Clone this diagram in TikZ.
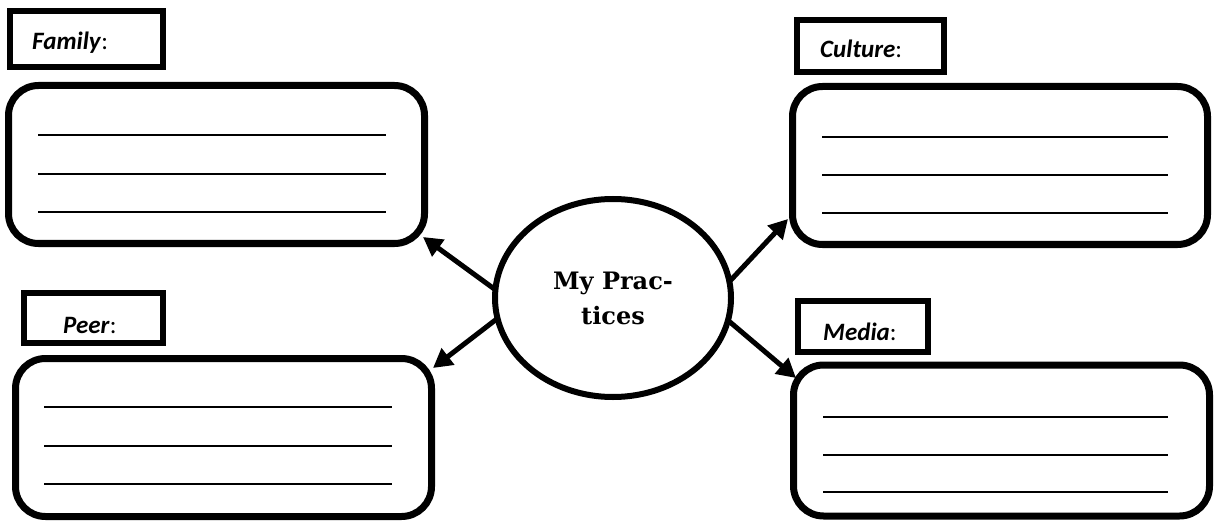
\documentclass[tikz,border=0pt]{standalone}
\usepackage{fontspec}
\setmainfont{Carlito}
\newfontfamily\centerfont{DejaVu Serif}
\usetikzlibrary{arrows.meta,shapes.geometric}
\tikzset{
  labelbox/.style={draw,line width=6pt,inner sep=0pt,outer sep=0pt},
  bigbox/.style={draw,line width=7pt,rounded corners=30pt,inner sep=0pt,outer sep=0pt},
  labeltext/.style={anchor=base west,inner sep=0pt,font=\fontsize{25}{28}\selectfont},
  fillline/.style={line width=1.8pt},
  conn/.style={line width=5pt,-{Triangle[length=19pt,width=20pt]}},
}
\newcommand{\lbl}[1]{\textbf{\textit{#1}}:}
\begin{document}
\begin{tikzpicture}[x=1pt,y=-1pt]
\useasboundingbox (0,0) rectangle (1214,521);
% label boxes
\node[labelbox,minimum width=153pt,minimum height=56pt] (famlbl) at (86.5,39) {};
\node[labelbox,minimum width=147pt,minimum height=52pt] (cullbl) at (870.5,46) {};
\node[labelbox,minimum width=139pt,minimum height=50pt] (peerlbl) at (93.5,318) {};
\node[labelbox,minimum width=130pt,minimum height=51pt] (medlbl) at (863,326.5) {};
\node[labeltext] (famtxt) at (32,50) {\lbl{Family}};
\node[labeltext] (cultxt) at (820,58) {\lbl{Culture}};
\node[labeltext] (peertxt) at (63,333) {\lbl{Peer}};
\node[labeltext] (medtxt) at (823,340) {\lbl{Media}};
% big boxes
\node[bigbox,minimum width=416pt,minimum height=158pt] (fam) at (216.5,164.5) {};
\node[bigbox,minimum width=415pt,minimum height=158pt] (cul) at (1000,165.5) {};
\node[bigbox,minimum width=416pt,minimum height=158pt] (peer) at (223.5,437.5) {};
\node[bigbox,minimum width=416pt,minimum height=151pt] (med) at (1001.5,440.5) {};
% fill-in lines
\foreach \yy in {135,174,212} \draw[fillline] (38,\yy) -- (386,\yy);
\foreach \yy in {137,175,213} \draw[fillline] (822,\yy) -- (1168,\yy);
\foreach \yy in {407,446,484} \draw[fillline] (44,\yy) -- (392,\yy);
\foreach \yy in {417,455,492} \draw[fillline] (823,\yy) -- (1168,\yy);
% centre
\node[ellipse,draw,line width=6pt,minimum width=236pt,minimum height=198pt,inner sep=0pt,outer sep=0pt,align=center,font=\centerfont\bfseries\fontsize{24}{35}\selectfont] (c) at (613,298) {My Prac-\\tices};
% connector ends
\coordinate (famtip) at (423,237);
\coordinate (peertip) at (433,368);
\coordinate (cultip) at (788,219);
\coordinate (medtip) at (796,378);
\draw[conn] (c.176) -- (famtip);
\draw[conn] (c.190) -- (peertip);
\draw[conn] (c.8) -- (cultip);
\draw[conn] (c.-11) -- (medtip);
\end{tikzpicture}
\end{document}
